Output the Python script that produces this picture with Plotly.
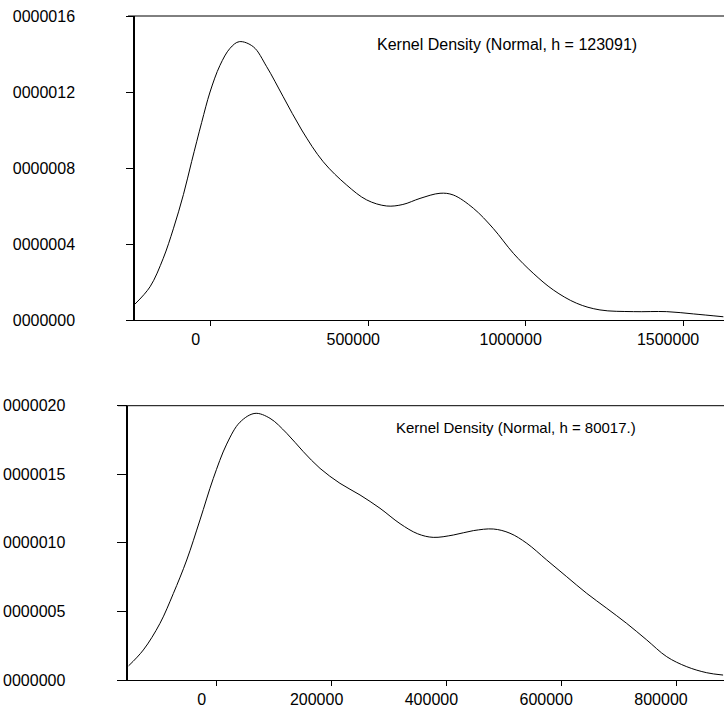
import plotly.graph_objects as go

# ---- data ----
top_x = [-240800, -193000, -151000, -119000, -87000, -60700, -29000, -2500, 29000, 61000,
         90500, 135000, 177500, 230000, 288700, 357000, 431700, 495000, 558700, 610000,
         664500, 728000, 770000, 834000, 897000, 961000, 1024000, 1088000, 1162000, 1236000,
         1342000, 1448000, 1533000, 1628000]
top_y = [0.84e-7, 1.75e-7, 3.25e-7, 4.8e-7, 6.6e-7, 8.35e-7, 10.4e-7, 12.0e-7, 13.4e-7, 14.3e-7,
         14.65e-7, 14.38e-7, 13.33e-7, 11.75e-7, 10.0e-7, 8.33e-7, 7.1e-7, 6.32e-7, 6.0e-7, 6.08e-7,
         6.4e-7, 6.67e-7, 6.58e-7, 5.88e-7, 4.82e-7, 3.51e-7, 2.46e-7, 1.58e-7, 0.88e-7, 0.53e-7,
         0.44e-7, 0.44e-7, 0.32e-7, 0.17e-7]

bot_x = [-154000, -128000, -99000, -75800, -52400, -29300, -6100, 17200, 40400, 66500,
         92700, 121800, 150700, 179800, 214600, 249500, 284300, 319200, 350000, 377000,
         412000, 446900, 481700, 510800, 540000, 574700, 609600, 644400, 679300, 714000,
         749000, 783800, 818700, 853500, 882000]
bot_y = [1.02e-7, 2.19e-7, 4.13e-7, 6.3e-7, 8.75e-7, 11.67e-7, 14.7e-7, 17.2e-7, 18.8e-7, 19.44e-7,
         19.08e-7, 17.99e-7, 16.65e-7, 15.43e-7, 14.34e-7, 13.49e-7, 12.52e-7, 11.4e-7, 10.66e-7, 10.4e-7,
         10.57e-7, 10.89e-7, 11.01e-7, 10.7e-7, 9.97e-7, 8.75e-7, 7.53e-7, 6.32e-7, 5.23e-7, 4.13e-7,
         2.92e-7, 1.7e-7, 0.97e-7, 0.53e-7, 0.36e-7]

top_xticks = [0, 500000, 1000000, 1500000]
top_xtext = ["0", "500000", "1000000", "1500000"]
top_yticks = [0, 4e-7, 8e-7, 12e-7, 16e-7]
top_ytext = ["0000000", "0000004", "0000008", "0000012", "0000016"]

bot_xticks = [0, 200000, 400000, 600000, 800000]
bot_xtext = ["0", "200000", "400000", "600000", "800000"]
bot_yticks = [0, 5e-7, 10e-7, 15e-7, 20e-7]
bot_ytext = ["0000000", "0000005", "0000010", "0000015", "0000020"]

top_label = "Kernel Density (Normal, h = 123091)"
bot_label = "Kernel Density (Normal, h = 80017.)"

# ---- layout geometry (pixels) ----
W, H = 724, 707
def px_x(p):
    return p / W
def px_y(p):
    return (H - p) / H

FONT = "Liberation Sans, Arial, Helvetica, sans-serif"

fig = go.Figure()
fig.add_trace(go.Scatter(x=top_x, y=top_y, mode="lines", line=dict(color="black", width=1, shape="spline"),
                         xaxis="x", yaxis="y", showlegend=False, hoverinfo="skip"))
fig.add_trace(go.Scatter(x=bot_x, y=bot_y, mode="lines", line=dict(color="black", width=1, shape="spline"),
                         xaxis="x2", yaxis="y2", showlegend=False, hoverinfo="skip"))

common_x = dict(showgrid=False, zeroline=False, showline=True, linecolor="black", linewidth=1,
                ticks="outside", ticklen=5, tickcolor="black", tickwidth=1,
                tickfont=dict(family=FONT, size=16, color="black"), tickmode="array")
common_y = dict(showgrid=False, zeroline=False, showline=True, linecolor="black", linewidth=1.5,
                ticks="outside", tickcolor="black", tickwidth=1,
                tickfont=dict(family=FONT, size=16, color="black"), tickmode="array")

fig.update_layout(
    width=W, height=H,
    margin=dict(l=0, r=0, t=0, b=0, autoexpand=False),
    paper_bgcolor="white", plot_bgcolor="white",
    xaxis=dict(domain=[px_x(135), 1.0], range=[-240800, 1630000], anchor="y",
               tickvals=top_xticks, ticktext=top_xtext, ticklabelshift=-15, **common_x),
    yaxis=dict(domain=[px_y(320), px_y(16)], range=[0, 1.6e-6], anchor="x",
               tickvals=top_yticks, ticktext=top_ytext, ticklen=7, ticklabelstandoff=48, **common_y),
    xaxis2=dict(domain=[px_x(128.3), 1.0], range=[-154200, 883600], anchor="y2",
                tickvals=bot_xticks, ticktext=bot_xtext, ticklabelshift=-15, **common_x),
    yaxis2=dict(domain=[px_y(680), px_y(405.7)], range=[0, 2.0e-6], anchor="x2",
                tickvals=bot_yticks, ticktext=bot_ytext, ticklen=10, ticklabelstandoff=48, **common_y),
    shapes=[
        dict(type="line", xref="paper", yref="paper", x0=px_x(128), x1=1.0, y0=px_y(16), y1=px_y(16),
             line=dict(color="black", width=1)),
        dict(type="line", xref="paper", yref="paper", x0=px_x(118), x1=1.0, y0=px_y(405.7), y1=px_y(405.7),
             line=dict(color="black", width=1)),
    ],
    annotations=[
        dict(text=top_label, xref="paper", yref="paper", x=px_x(375), y=px_y(45),
             xanchor="left", yanchor="middle", showarrow=False,
             font=dict(family=FONT, size=16, color="black")),
        dict(text=bot_label, xref="paper", yref="paper", x=px_x(394), y=px_y(427),
             xanchor="left", yanchor="middle", showarrow=False,
             font=dict(family=FONT, size=15, color="black")),
    ],
)

fig.write_html("out.html", config={"displayModeBar": False},
               post_script="document.body.style.margin='0';document.body.style.overflow='hidden';")
